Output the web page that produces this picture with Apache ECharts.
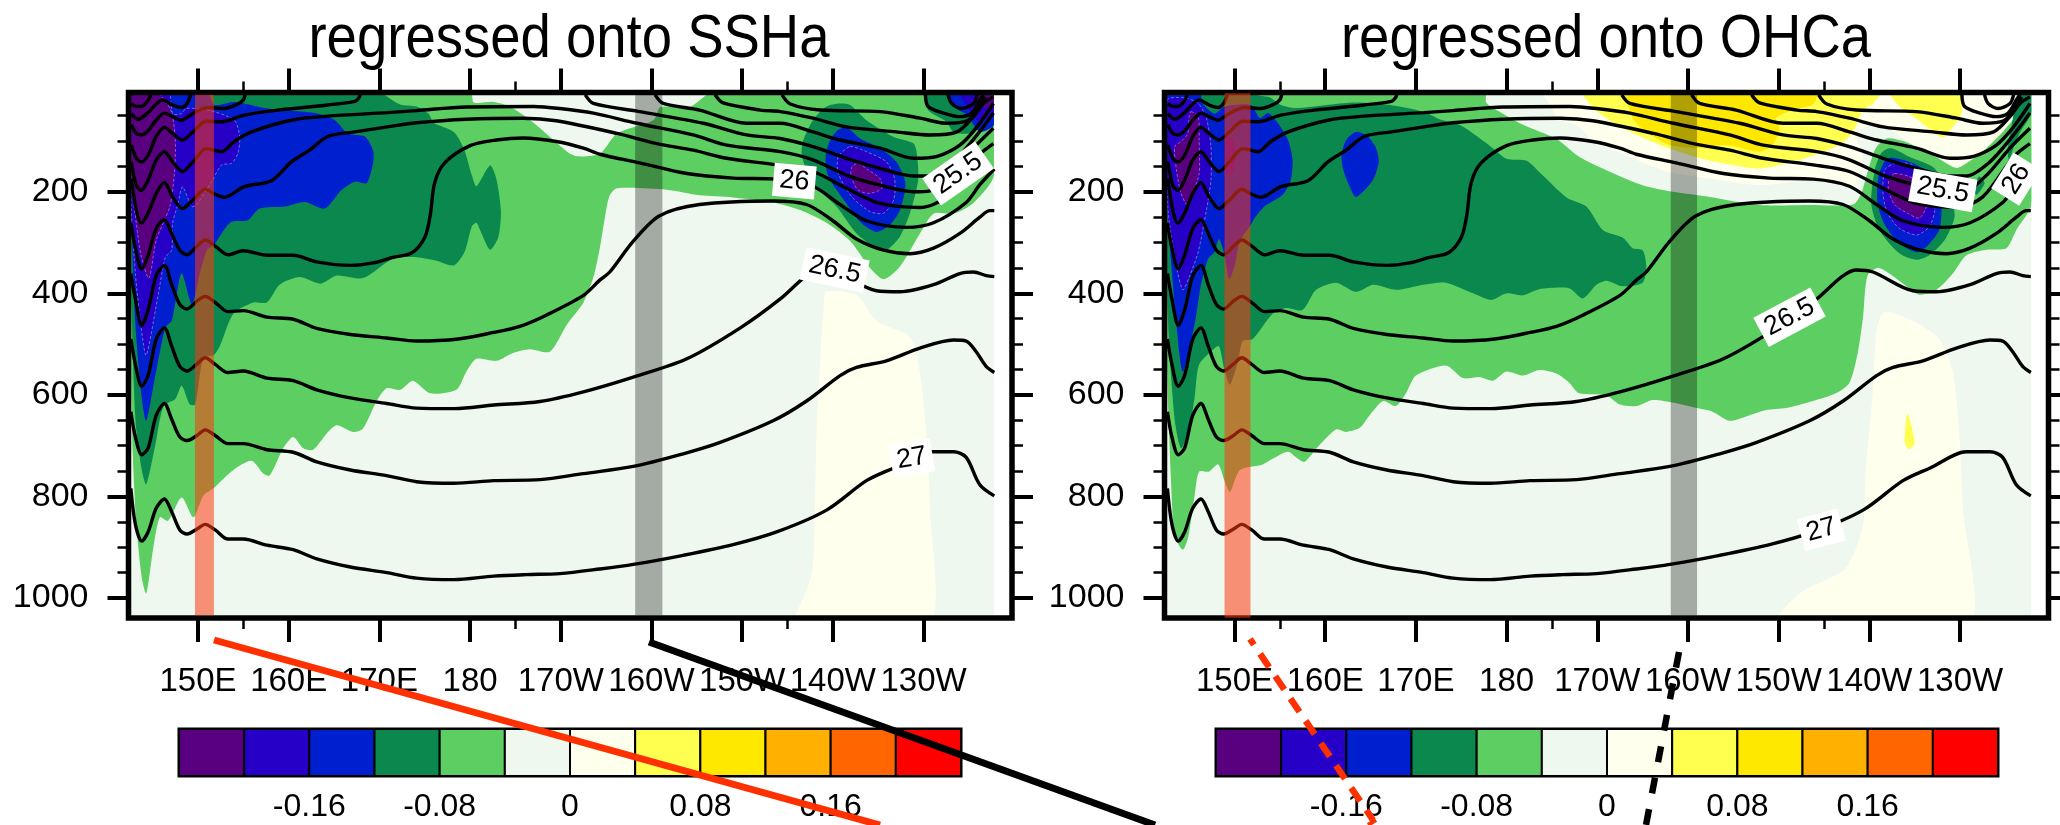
<!DOCTYPE html>
<html>
<head>
<meta charset="utf-8">
<title>regressed onto SSHa / OHCa</title>
<style>
  html, body { margin: 0; padding: 0; background: #fff; }
  #chart { width: 2060px; height: 825px; }
</style>
<script src="https://cdn.jsdelivr.net/npm/echarts@6/dist/echarts.min.js"></script>
</head>
<body>
<div id="chart"></div>
<script>
const panelTitles = ['regressed onto SSHa', 'regressed onto OHCa'];
const lonTicks = [150, 160, 170, 180, 190, 200, 210, 220, 230];
const lonTickLabels = ['150E', '160E', '170E', '180', '170W', '160W', '150W', '140W', '130W'];
const lonMinorTicks = [155, 185, 215];
const depthTicks = [200, 400, 600, 800, 1000];
const depthMinorTicks = [50, 100, 150, 250, 300, 350, 450, 500, 550, 650, 700, 750, 850, 900, 950];

const barEdges = [-0.24, -0.2, -0.16, -0.12, -0.08, -0.04, 0, 0.04, 0.08, 0.12, 0.16, 0.2, 0.24];
const barTicks = [-0.16, -0.08, 0, 0.08, 0.16];
const barColors = ['#580080', '#2700C8', '#0020D0', '#0A884E', '#5CCE62', '#EEF8EE',
  '#FFFFEE', '#FFFF50', '#FFE800', '#FFB000', '#FF6600', '#FF0000'];

// isopycnals, lon / depth, same in both panels
const contourA = [[142.6,784],[143.1,855],[143.8,888],[144.5,870],[145.4,823],[146.3,805],[147.1,830],[148,866],[148.8,874],[149.9,864],[150.8,855],[151.9,866],[153.3,884],[155,884],[157.6,896],[160.5,905],[163.1,923],[166.8,939],[170.8,950],[174.1,961],[178.2,964],[182.6,957],[186.2,954],[189.9,952],[194.3,943],[198,934],[203.5,916],[209,895],[213.8,870],[219.3,827],[223.7,769],[226.7,744],[230.7,712],[233.3,712],[234.7,723],[236.2,777],[237.8,799]];
const contourB = [[142.6,633],[143.1,683],[143.8,718],[144.5,705],[145.4,640],[146.3,617],[147.1,648],[148,683],[148.8,690],[149.9,680],[150.8,669],[151.9,680],[153.3,696],[155,696],[157.6,708],[160.5,713],[163.1,732],[166.8,748],[170.8,759],[174.1,771],[178.2,774],[182.6,769],[187.7,767],[192.5,755],[198,741],[203.5,716],[207.5,694],[213.4,651],[217.1,612],[220.8,562],[222.6,546],[225.9,533],[229.6,508],[233.3,492],[234.7,494],[235.8,515],[236.9,544],[237.8,556]];
const contourC = [[142.6,490],[143.1,540],[143.8,583],[144.5,562],[145.4,490],[146.3,468],[147.1,504],[148,544],[148.8,553],[149.9,539],[150.8,527],[151.9,540],[153.3,556],[155,553],[157.6,567],[160.5,572],[163.1,590],[166.8,606],[170.8,617],[174.1,626],[178.3,627],[182.6,620],[187.7,613],[192.5,594],[198,565],[203.9,529],[209.8,468],[214.2,411],[216.9,368],[218.5,354],[220.4,358],[224.8,395],[227.4,397],[231.1,383],[234,361],[235.5,358],[236.9,365],[237.8,367]];
const contourD = [[142.6,361],[143.1,411],[143.8,463],[144.5,433],[145.4,365],[146.3,345],[147.1,383],[148,422],[148.8,431],[149.9,415],[150.8,406],[151.9,418],[153.3,436],[155,434],[157.6,447],[160.5,451],[163.1,469],[166.8,481],[170.8,488],[174.1,494],[178.7,490],[182.6,477],[185.5,465],[188.4,443],[192.5,404],[194.3,374],[195.4,358],[198,297],[200.9,247],[205.3,225],[213.4,218],[217.1,225],[220,257],[222.6,293],[225.6,315],[228.5,322],[231.1,311],[234,282],[236.2,250],[237.3,237],[237.8,237]];
const contourE = [[142.6,261],[143.1,311],[143.8,352],[144.5,325],[145.4,272],[146.3,255],[147.1,282],[148,315],[148.8,324],[149.9,307],[150.8,295],[151.9,307],[153.3,324],[155,316],[157.6,325],[160.5,325],[163.1,338],[166.8,345],[169.3,340],[171.5,329],[173.6,320],[175,290],[175.6,247],[176.1,182],[177.2,143],[180,109],[182.9,98],[185.9,94],[189.5,101],[192.5,114],[194.3,126],[198.7,143],[203.9,164],[209,173],[213.8,175],[217.8,189],[220.8,225],[223.7,257],[228.1,270],[231.1,261],[234.7,221],[236.2,186],[237.8,155]];
const contourF = [[142.65,174],[143.2,236],[143.75,262],[144.5,242],[145.4,203],[146.3,182],[147.2,210],[148.3,233],[149.45,216],[150.8,195],[151.8,204],[152.9,211],[155.1,190],[158.1,178],[160.3,141],[162.3,118],[164.3,91],[167.3,82],[170.9,72],[174.1,64],[179.6,57],[185.9,55],[189.5,60],[196.2,85],[200.6,105],[204.6,118],[208.3,134],[213.8,147],[217.8,160],[221.5,193],[225.2,223],[229.6,231],[232.5,210],[235.9,131],[237.7,105]];
const contourG = [[142.65,141],[143.2,187],[143.75,197],[144.5,177],[145.4,137],[146.3,121],[147.2,141],[148.3,160],[149.45,141],[150.9,115],[152.6,121],[154,101],[155.9,82],[160.3,59],[164.3,51],[170.9,44],[174.1,40],[179.6,33],[187,32],[189.9,36],[193.6,45],[198.4,65],[204.6,88],[208.3,108],[214.2,121],[217.8,137],[221.5,167],[225.2,187],[228.9,200],[230.7,198],[233.1,164],[235.5,114],[237.7,75]];
const contourH = [[142.65,108],[143.2,134],[143.75,141],[144.5,128],[145.4,91],[146.3,73],[147.2,85],[148.3,98],[149.45,82],[150.9,61],[152.6,62],[155.1,49],[158.8,39],[164.3,29],[167.3,22],[167.7,16],[167.9,9]];
const contourI = [[142.65,68],[143.2,85],[143.75,88],[144.5,80],[145.4,59],[146.3,45],[147.2,52],[148.2,59],[148.9,52],[149.8,42],[151.1,34],[152.9,36],[154.4,27],[155,19],[155.2,9]];
const contourJ = [[142.65,46],[143.4,57],[144.5,44],[145.4,27],[146.1,19],[147.2,29],[148.2,34],[148.8,26],[149.2,9]];
const contourK = [[142.65,26],[143.2,32],[143.75,32],[144.4,23],[144.8,9]];
const contourL = [[192.7,9],[193.6,26],[198.7,42],[205.7,65],[210.5,88],[214.2,95],[217.8,111],[221.5,134],[225.2,154],[228.9,169],[230.7,169],[233.3,141],[235.9,88],[237.7,45]];
const contourM = [[200.4,9],[201.3,26],[205.3,39],[210.5,65],[214.2,65],[217.8,82],[220.8,98],[225.2,114],[228.9,134],[231.5,130],[234,108],[235.9,72],[237.7,26]];
const contourN = [[207,9],[207.9,25],[212,39],[214.2,42],[217.8,55],[221.5,72],[227,82],[230.7,88],[233.7,82],[235.5,52],[236.6,26],[237.7,13]];
const contourO = [[214.4,9],[215.3,27],[218.6,39],[225.2,42],[229.6,55],[232.5,65],[234.8,60],[235.9,39],[236.8,13]];
const contourP = [[230.2,9],[230.5,32],[232.2,45],[234,52],[235.3,45],[236.2,19],[236.6,9]];
const contourQ = [[232.7,9],[233.1,26],[234.2,36],[235.5,26],[235.9,9]];
const contours = [contourA, contourB, contourC, contourD, contourE, contourF, contourG, contourH, contourI,
  contourJ, contourK, contourL, contourM, contourN, contourO, contourP, contourQ];

const sshaLabelText = ['26', '25.5', '26.5', '27'];
const sshaLabelPos = [[215.75,179], [233.8,164], [220.2,354], [228.7,725]];
const ohcaLabelText = ['26', '25.5', '26.5', '27'];
const ohcaLabelPos = [[236.2,175], [228.1,197], [211.2,447], [214.7,866]];

// SSHa panel, filled levels
const sshaCream = [[219.3,397],[222.6,404],[224.8,454],[228.5,486],[229.6,555],[230.3,676],[230.7,820],[230.5,1034],[215.8,1034],[217.1,984],[217.8,941],[218.2,676],[218.6,533],[219,426]];
const sshaGreen = [[142.6,9],[180,9],[180.4,24],[182.6,23],[184.4,32],[187,64],[190.7,121],[191.8,130],[194.3,125],[196.2,85],[200.2,59],[201,33],[204.2,33],[207.1,9],[237.76,9],[237.76,168],[235.5,222],[233.3,243],[231.1,243],[229.6,282],[227.4,347],[225.6,372],[224.1,350],[221.9,297],[219.3,261],[216.4,236],[213.4,221],[209,211],[205.3,207],[201.7,196],[196.2,193],[195.4,207],[194.9,247],[194.3,311],[193.6,368],[192.5,418],[190.7,461],[188.8,515],[186.6,510],[184.8,517],[182.9,533],[180.7,529],[179.6,554],[178.5,590],[175.6,597],[173.7,572],[172.3,590],[170.8,587],[169.7,612],[168.2,666],[167.1,673],[165.3,660],[164.2,676],[162.7,708],[161.6,705],[160.5,683],[159.4,705],[157.9,759],[157.2,755],[155.9,730],[153.9,748],[151.7,784],[150.6,798],[149.5,841],[148.2,802],[146.7,848],[145.8,841],[145.1,898],[144.3,991],[143.8,959],[143.2,855],[142.8,712],[142.6,533]];
const sshaDark = [[142.6,9],[169.3,9],[172.3,28],[174.1,32],[175.4,46],[176,64],[178.2,82],[179.3,114],[180.2,168],[180.7,189],[182.2,148],[182.9,175],[183.4,239],[183.1,290],[182.2,314],[181.1,275],[180.7,261],[180.2,268],[179.4,318],[178.2,345],[176.3,336],[174.1,329],[171.5,332],[168.2,370],[165.3,365],[163.5,381],[161.2,368],[159,383],[157.6,418],[156.1,418],[153.9,440],[152.4,504],[151.7,522],[150.6,526],[149.7,619],[149.1,619],[148.2,582],[147.5,608],[146.2,622],[145.3,698],[144.3,776],[143.8,748],[143.1,648],[142.6,361]];
const sshaDarkEast = [[220.8,26],[221.9,29],[223.7,59],[226.7,92],[228.9,105],[229.3,131],[229.4,177],[228.5,242],[227.4,288],[225.9,315],[224.8,311],[222.6,282],[220.4,229],[217.8,183],[216.6,131],[216.7,101],[217.8,59],[219.3,32]];
const sshaDarkCorner = [[230.2,9],[230.5,39],[232.5,62],[233.3,82],[235,85],[236.2,72],[237.76,45],[237.76,9]];
const sshaBlue = [[142.6,9],[150.9,9],[151.8,29],[154,23],[157.7,36],[162.9,45],[165.1,59],[166.5,85],[168.4,91],[169.3,118],[169.3,144],[168.6,183],[167.3,180],[165.8,197],[164,233],[161.8,220],[159.6,229],[156.8,233],[155.5,256],[153.7,259],[152.6,282],[151.8,304],[151,315],[150.2,361],[149.7,404],[149.3,422],[148.2,361],[147.5,418],[147.1,454],[146.4,468],[145.3,562],[144.3,651],[143.8,605],[143.1,461],[142.6,211]];
const sshaBlueEast = [[221.5,73],[223,95],[225.2,114],[227,141],[228,183],[227.4,236],[226.3,265],[224.8,279],[223,259],[221.2,216],[219.5,170],[219.2,131],[219.7,98],[220.6,78]];
const sshaBlueCorner = [[232.7,9],[233.3,32],[234.8,49],[236.2,82],[237.76,68],[237.76,9]];
const sshaIndigo = [[142.6,9],[146.7,9],[147.2,46],[148.2,46],[148.7,36],[151.1,39],[154,59],[154.6,92],[154.4,124],[153.7,144],[152.6,147],[151.5,180],[149.8,226],[149.3,229],[148.3,190],[147.8,223],[147.2,262],[147.1,315],[146.4,329],[145.6,404],[144.3,522],[143.8,476],[143.1,361],[142.6,211]];
const sshaIndigoEast = [[221.9,111],[223.7,121],[225.9,141],[226.8,174],[226.7,216],[225.6,242],[224.1,239],[222.1,210],[220.6,164],[220.6,131]];
const sshaIndigoCorner = [[234,9],[234.8,32],[235.9,59],[237.76,50],[237.76,9]];
const sshaPurple = [[142.6,9],[145.2,9],[147,39],[147.5,98],[147.4,164],[146.9,229],[145.4,295],[144.6,370],[143.75,328],[143.2,262],[142.6,170]];
const sshaPurpleEast = [[222.8,144],[223.9,157],[225.2,174],[225.4,193],[224.1,203],[222.8,197],[222,170],[222.1,151]];
const sshaPurpleCorner = [[236,9],[235.9,23],[236.6,32],[237.76,30],[237.76,9]];

// OHCa panel, filled levels
const ohcaCreamTop = [[183.8,9],[184.55,21],[185.83,59],[187.7,68],[189.5,98],[193.2,128],[197.6,160],[202.4,174],[207.9,187],[213.4,177],[218.2,187],[219.3,210],[218.7,183],[219.3,131],[218.5,85],[220.7,65],[223,85],[225.5,118],[228.1,137],[229.9,154],[232.5,137],[234.3,105],[236.2,65],[237.7,39],[237.87,9]];
const ohcaCreamDeep = [[221.85,436],[224.8,454],[227.7,490],[229.2,555],[229.9,676],[230.3,820],[230.85,1034],[209.35,1034],[212.3,991],[217.4,941],[219.3,855],[219.6,748],[220.4,590],[220.75,476],[221.3,443]];
const ohcaYellow = [[188.4,9],[190.2,45],[193.2,78],[196.9,108],[201.3,134],[204.9,147],[207.9,154],[211.6,141],[214.5,124],[216.7,108],[218.2,82],[219.3,39],[220.4,26],[221.3,9]];
const ohcaYellowEast = [[222.2,9],[223.3,32],[225.2,56],[228.1,93],[229.2,72],[230.1,50],[230.1,9]];
const ohcaYellowSpot = [[224.2,637],[225,694],[224.4,707],[223.9,694]];
const ohcaGold = [[193.4,9],[193.9,55],[195.4,82],[198,108],[200.9,114],[204.2,108],[207.9,121],[209.3,108],[210.1,78],[209.7,55],[211.6,39],[213.9,26],[214.1,9]];
const ohcaGreen = [[142.55,9],[177.6,9],[177.75,24],[179.2,42],[181.8,68],[185.5,96],[188,131],[191.3,160],[195,187],[198.3,200],[202.4,210],[207.9,226],[213.4,226],[218.2,225],[219.1,204],[219.8,161],[220.7,114],[221.9,95],[223.7,100],[225.5,114],[227.4,132],[229.6,153],[231.1,139],[232.9,114],[234.7,82],[236.5,46],[237.87,32],[237.87,225],[236.2,275],[235.1,311],[232.9,314],[230.7,325],[229.2,361],[227.4,393],[225.5,403],[224.4,390],[221.1,350],[219.8,365],[219.3,447],[218.7,519],[217.8,576],[216.3,597],[213.8,612],[210.8,626],[208.6,630],[206.8,640],[204.6,651],[202.7,633],[201,626],[198.3,615],[196.1,610],[194.3,622],[192.5,619],[191,601],[188,597],[186.9,576],[185.5,558],[183.6,551],[181.8,562],[180,554],[178.5,572],[177,565],[175.2,567],[173.3,542],[170,562],[168.9,597],[167.8,622],[166.4,612],[164.9,640],[163.8,665],[162.3,673],[161.2,668],[159.4,698],[157.7,732],[157,726],[155.9,712],[154.2,726],[153.1,737],[150.6,748],[149.5,791],[148.9,769],[148.2,737],[147.2,751],[146.1,751],[145.6,798],[144.9,880],[144.3,905],[143.4,877],[143,769],[142.55,533]];
const ohcaDark = [[142.55,9],[153.7,13],[155.1,29],[156.8,35],[163,24],[166.7,28],[170.8,42],[172.6,57],[174.8,68],[176.3,85],[178.5,114],[180,135],[182.2,139],[183.6,161],[186.6,211],[188.8,229],[190.6,275],[192.8,290],[193.9,311],[195,315],[195.4,347],[195,379],[192.8,386],[191,375],[189.9,383],[188.4,410],[186.9,390],[183.6,392],[181.8,404],[180,400],[178.3,413],[176.3,400],[173.3,379],[170.8,383],[167.8,393],[165.3,383],[163.4,397],[161.2,379],[159,393],[157.5,433],[155.7,429],[154.2,440],[152,490],[150.9,494],[150.4,533],[149.5,580],[148.9,551],[148.3,504],[147.8,508],[146.1,540],[145.6,605],[144.9,676],[144.1,705],[143.4,648],[142.65,447],[142.55,218]];
const ohcaDarkEast = [[222.4,114],[224.4,131],[227.2,154],[229,216],[229.4,249],[228.3,295],[226.6,325],[225.2,334],[223.3,321],[221.1,275],[220.2,223],[220.6,157],[221.3,124]];
const ohcaDarkSpot = [[232.1,170],[232.7,183],[231.8,206],[231.5,190]];
const ohcaDarkCorner = [[236.55,9],[237.87,9],[237.87,45],[236.55,85],[235.8,118],[235.45,144],[235.25,118],[235.6,78]];
const ohcaBlue = [[142.55,9],[146.1,9],[146.5,26],[147.8,46],[148.9,32],[151.8,29],[152.8,55],[153.7,45],[154.8,65],[155.9,98],[156.4,137],[156.2,177],[155.3,206],[153.3,229],[152.2,252],[151.8,265],[150.6,297],[150,347],[149.4,372],[148.9,325],[148.3,293],[147.8,318],[147.1,332],[146.3,383],[145.6,461],[144.3,555],[143.6,461],[142.55,218]];
const ohcaBlueIsland = [[163.4,82],[164.7,91],[165.6,114],[165.9,141],[165.25,177],[163.4,210],[162.7,190],[162,157],[161.8,128],[162.3,98]];
const ohcaBlueEast = [[222,134],[224.4,141],[226.6,164],[227.9,223],[227.7,275],[226.3,308],[225.2,319],[223.3,302],[221.7,265],[220.9,223],[221,170]];
const ohcaIndigo = [[142.55,20],[144.5,15],[146,26],[146.9,55],[147.4,111],[147.4,177],[146.9,236],[146,318],[145,368],[144.3,393],[143.6,347],[142.65,232]];
const ohcaIndigoPatch = [[149.1,88],[149.8,98],[150.1,131],[149.8,164],[149.1,164],[148.9,118]];
const ohcaIndigoEast = [[222.8,144],[224.8,147],[226.6,190],[227.2,236],[226.6,269],[225.2,285],[223.3,272],[222,242],[221.5,203],[221.7,157]];
const ohcaPurple = [[145.2,42],[146,52],[146.1,98],[146.1,164],[145.4,203],[144.8,226],[144.1,203],[143.6,157],[143.4,111],[144.1,101],[144.85,85],[145,52]];
const ohcaPurpleEast = [[222.8,164],[224.8,174],[226.3,226],[225.5,252],[224.2,242],[222.8,226],[222.1,197],[222.2,174]];

// shaded bands, lon range / depth range
const sshaBands = { red: [[149.67,151.76],[9,1034]], grey: [[198.2,201.2],[9,1034]], base: [[142.6,237.76],[9,1034]] };
const ohcaBands = { red: [[148.9,151.76],[6,1039]], grey: [[198.1,201],[9,1034]], base: [[142.55,237.87],[9,1034]] };

// connector lines over the whole page, page x / y
const redSolid = [[214,640],[880,825]];
const blackSolid = [[649,642],[1155,825]];
const redDashed = [[1250,639],[1373,820]];
const redHead = [[1376,820],[1368,825]];
const blackDashed = [[1679,652],[1646,825]];

const FONT = 'Liberation Sans';
const PALE = '#EEF8EE', CREAM = '#FFFFEE', YELLOW = '#FFFF50', GOLD = '#FFE800';
const GREEN = '#5CCE62', DARK = '#0A884E', BLUE = '#0020D0', INDIGO = '#2700C8', PURPLE = '#580080';
const grids = [
  { left: 128.5, top: 92.5, width: 883.5, height: 525.5, show: true, borderColor: '#000', borderWidth: 0, backgroundColor: '#fff' },
  { left: 1164.5, top: 92.5, width: 884, height: 525.5, show: true, borderColor: '#000', borderWidth: 0, backgroundColor: '#fff' },
  { left: 179, top: 729, width: 782, height: 47, show: true, borderColor: '#000', borderWidth: 3 },
  { left: 1216, top: 729, width: 782, height: 47, show: true, borderColor: '#000', borderWidth: 3 },
  { left: 0, top: 0, width: 2060, height: 825 }
];
const lonExtent = [[142.34, 239.75], [142.28, 239.75]];
const depthExtent = [4.4, 1039.5];
const panelBase = [sshaBands.base[0], ohcaBands.base[0]];

function lonAxis(gridIndex, position, values, length, labelled) {
  return {
    type: 'value', gridIndex, position,
    min: lonExtent[gridIndex][0], max: lonExtent[gridIndex][1],
    axisLine: { show: false }, splitLine: { show: false },
    axisTick: { show: true, customValues: values, length, inside: false, lineStyle: { color: '#000', width: length > 15 ? 4 : 2.5 } },
    axisLabel: labelled ? {
      show: true, customValues: values, margin: 47, hideOverlap: false,
      color: '#000', fontFamily: FONT, fontSize: 33,
      formatter: (v) => lonTickLabels[lonTicks.indexOf(v)]
    } : { show: false }
  };
}

function depthAxis(gridIndex, position, values, length, labelled) {
  return {
    type: 'value', gridIndex, position, inverse: true,
    min: depthExtent[0], max: depthExtent[1],
    axisLine: { show: false }, splitLine: { show: false },
    axisTick: { show: true, customValues: values, length, inside: false, lineStyle: { color: '#000', width: length > 15 ? 4 : 2.5 } },
    axisLabel: labelled ? {
      show: true, customValues: values, margin: 40, hideOverlap: false,
      color: '#000', fontFamily: FONT, fontSize: 34,
      formatter: (v) => String(v)
    } : { show: false }
  };
}

function panelAxes(gridIndex) {
  return {
    x: [
      lonAxis(gridIndex, 'bottom', lonTicks, 24, true),
      lonAxis(gridIndex, 'top', lonTicks, 24, false),
      lonAxis(gridIndex, 'bottom', lonMinorTicks, 11, false),
      lonAxis(gridIndex, 'top', lonMinorTicks, 11, false)
    ],
    y: [
      depthAxis(gridIndex, 'left', depthTicks, 21, true),
      depthAxis(gridIndex, 'right', depthTicks, 21, false),
      depthAxis(gridIndex, 'left', depthMinorTicks, 11, false),
      depthAxis(gridIndex, 'right', depthMinorTicks, 11, false)
    ]
  };
}

function barAxis(gridIndex) {
  return {
    type: 'value', gridIndex, min: -0.24, max: 0.24,
    axisLine: { show: false }, axisTick: { show: false }, splitLine: { show: false },
    axisLabel: {
      show: true, customValues: barTicks, margin: 15, hideOverlap: false,
      color: '#000', fontFamily: FONT, fontSize: 32,
      formatter: (v) => String(v)
    }
  };
}

function plainAxis(gridIndex, max, inverse) {
  return { type: 'value', gridIndex, min: 0, max, inverse, show: false };
}

const leftAxes = panelAxes(0);
const rightAxes = panelAxes(1);
const xAxes = [...leftAxes.x, ...rightAxes.x, barAxis(2), barAxis(3), plainAxis(4, 2060, false)];
const yAxes = [...leftAxes.y, ...rightAxes.y,
  plainAxis(2, 1, false), plainAxis(3, 1, false), plainAxis(4, 825, true)];

let zCounter = 2;

function polygon(panel, points, color, opts = {}) {
  zCounter += 1;
  const smooth = opts.smooth ?? 0.25;
  // edges that run along the frame go under it, so smoothing leaves no gap there
  const drawn = smooth ? points.map(([lon, depth]) => [lon, depth <= 9 ? 0 : depth >= 1034 ? 1060 : depth]) : points;
  return {
    type: 'custom',
    silent: true,
    clip: true,
    xAxisIndex: panel * 4,
    yAxisIndex: panel * 4,
    z: opts.z ?? zCounter,
    encode: { x: 0, y: 1 },
    data: points,
    renderItem: (params, api) => {
      if (params.dataIndex !== 0) return null;
      const a = api.coord([panelBase[panel][0], depthExtent[0]]);
      const b = api.coord([panelBase[panel][1], depthExtent[1]]);
      return {
        type: 'polygon',
        shape: { points: drawn.map((p) => api.coord(p)), smooth },
        clipPath: { type: 'rect', shape: { x: a[0], y: a[1], width: b[0] - a[0], height: b[1] - a[1] } },
        style: { fill: color, stroke: opts.stroke ?? null, lineWidth: opts.stroke ? 1 : 0, lineDash: opts.stroke ? [3, 2] : null }
      };
    }
  };
}

function band(panel, range, color, z) {
  const [[lonA, lonB], [depthA, depthB]] = range;
  return polygon(panel, [[lonA, depthA], [lonB, depthA], [lonB, depthB], [lonA, depthB]], color, { smooth: 0, z });
}

function frame(panel) {
  return {
    type: 'custom', silent: true, clip: false, z: 155,
    xAxisIndex: panel * 4, yAxisIndex: panel * 4,
    encode: { x: 0, y: 1 },
    data: [[lonExtent[panel][0], depthExtent[0]]],
    renderItem: (params, api) => {
      const a = api.coord([lonExtent[panel][0], depthExtent[0]]);
      const b = api.coord([lonExtent[panel][1], depthExtent[1]]);
      return {
        type: 'rect',
        shape: { x: a[0], y: a[1], width: b[0] - a[0], height: b[1] - a[1] },
        style: { fill: null, stroke: '#000', lineWidth: 5.5 }
      };
    }
  };
}

function contourSeries(panel) {
  return contours.map((points) => ({
    type: 'line', silent: true, xAxisIndex: panel * 4, yAxisIndex: panel * 4,
    data: points, smooth: 0.3, symbol: 'none', z: 150,
    lineStyle: { color: '#000', width: 3.4 }
  }));
}

function labelSeries(panel, texts, positions, tilts) {
  return {
    type: 'scatter', silent: true, xAxisIndex: panel * 4, yAxisIndex: panel * 4,
    symbolSize: 1, itemStyle: { color: 'transparent', opacity: 1 }, z: 170,
    data: positions.map((value, i) => ({
      value,
      label: { show: true, position: 'inside', rotate: tilts[i], formatter: texts[i],
        backgroundColor: '#fff', padding: [4, 6, 2, 6], color: '#000', fontFamily: FONT, fontSize: 27 }
    }))
  };
}

function colorBar(gridIndex) {
  return {
    type: 'custom', silent: true, xAxisIndex: gridIndex + 6, yAxisIndex: gridIndex + 6, z: 20,
    data: barColors.map((color, i) => [barEdges[i], barEdges[i + 1], i]),
    encode: { x: [0, 1] },
    renderItem: (params, api) => {
      const a = api.coord([api.value(0), 0]);
      const b = api.coord([api.value(1), 1]);
      return {
        type: 'rect',
        shape: { x: a[0], y: b[1], width: b[0] - a[0], height: a[1] - b[1] },
        style: { fill: barColors[api.value(2)], stroke: '#000', lineWidth: 2 }
      };
    }
  };
}

function connector(points, color, width, dash, offset) {
  return {
    type: 'line', silent: true, xAxisIndex: 10, yAxisIndex: 10, z: 300, clip: false,
    data: points, symbol: 'none',
    lineStyle: { color, width, type: dash ?? 'solid', dashOffset: offset ?? 0, cap: 'butt' }
  };
}

const series = [
  band(0, sshaBands.base, PALE),
  polygon(0, sshaCream, CREAM),
  polygon(0, sshaGreen, GREEN),
  polygon(0, sshaDark, DARK),
  polygon(0, sshaDarkEast, DARK),
  polygon(0, sshaDarkCorner, DARK),
  polygon(0, sshaBlue, BLUE),
  polygon(0, sshaBlueEast, BLUE),
  polygon(0, sshaBlueCorner, BLUE),
  polygon(0, sshaIndigo, INDIGO, { stroke: 'rgba(205,170,255,0.55)' }),
  polygon(0, sshaIndigoEast, INDIGO, { stroke: 'rgba(205,170,255,0.55)' }),
  polygon(0, sshaIndigoCorner, INDIGO),
  polygon(0, sshaPurple, PURPLE, { stroke: 'rgba(225,150,255,0.55)' }),
  polygon(0, sshaPurpleEast, PURPLE, { stroke: 'rgba(225,150,255,0.55)' }),
  polygon(0, sshaPurpleCorner, PURPLE),
  band(1, ohcaBands.base, PALE),
  polygon(1, ohcaCreamTop, CREAM),
  polygon(1, ohcaCreamDeep, CREAM),
  polygon(1, ohcaYellow, YELLOW),
  polygon(1, ohcaYellowEast, YELLOW),
  polygon(1, ohcaYellowSpot, YELLOW),
  polygon(1, ohcaGold, GOLD),
  polygon(1, ohcaGreen, GREEN),
  polygon(1, ohcaDark, DARK),
  polygon(1, ohcaDarkEast, DARK),
  polygon(1, ohcaDarkSpot, DARK),
  polygon(1, ohcaDarkCorner, DARK),
  polygon(1, ohcaBlue, BLUE),
  polygon(1, ohcaBlueIsland, BLUE),
  polygon(1, ohcaBlueEast, BLUE),
  polygon(1, ohcaIndigo, INDIGO, { stroke: 'rgba(205,170,255,0.55)' }),
  polygon(1, ohcaIndigoPatch, INDIGO),
  polygon(1, ohcaIndigoEast, INDIGO, { stroke: 'rgba(205,170,255,0.55)' }),
  polygon(1, ohcaPurple, PURPLE, { stroke: 'rgba(225,150,255,0.55)' }),
  polygon(1, ohcaPurpleEast, PURPLE, { stroke: 'rgba(225,150,255,0.55)' }),
  ...contourSeries(0),
  ...contourSeries(1),
  frame(0),
  frame(1),
  band(0, sshaBands.red, 'rgba(255,57,18,0.55)', 160),
  band(0, sshaBands.grey, 'rgba(0,0,0,0.31)', 160),
  band(1, ohcaBands.red, 'rgba(255,57,18,0.55)', 160),
  band(1, ohcaBands.grey, 'rgba(0,0,0,0.31)', 160),
  labelSeries(0, sshaLabelText, sshaLabelPos, [-5, 35, -12, 10]),
  labelSeries(1, ohcaLabelText, ohcaLabelPos, [58, -10, 28, 15]),
  colorBar(2),
  colorBar(3),
  connector(redSolid, '#FF3000', 7),
  connector(blackSolid, '#000', 7),
  connector(redDashed, '#FF3000', 6.5, [16, 11], 9),
  connector(redHead, '#FF3000', 4),
  connector(blackDashed, '#000', 6.5, [16, 16])
];

const chart = echarts.init(document.getElementById('chart'));
chart.setOption({
  animation: false,
  backgroundColor: '#fff',
  textStyle: { fontFamily: FONT },
  grid: grids,
  xAxis: xAxes,
  yAxis: yAxes,
  series,
  graphic: [
    { type: 'text', x: 569, y: 40, scaleY: 1.12, z: 200, style: { text: panelTitles[0], font: '54.5px "Liberation Sans"', fill: '#000', align: 'center', verticalAlign: 'middle' } },
    { type: 'text', x: 1606, y: 40, scaleY: 1.12, z: 200, style: { text: panelTitles[1], font: '54.5px "Liberation Sans"', fill: '#000', align: 'center', verticalAlign: 'middle' } }
  ]
});
</script>
</body>
</html>
